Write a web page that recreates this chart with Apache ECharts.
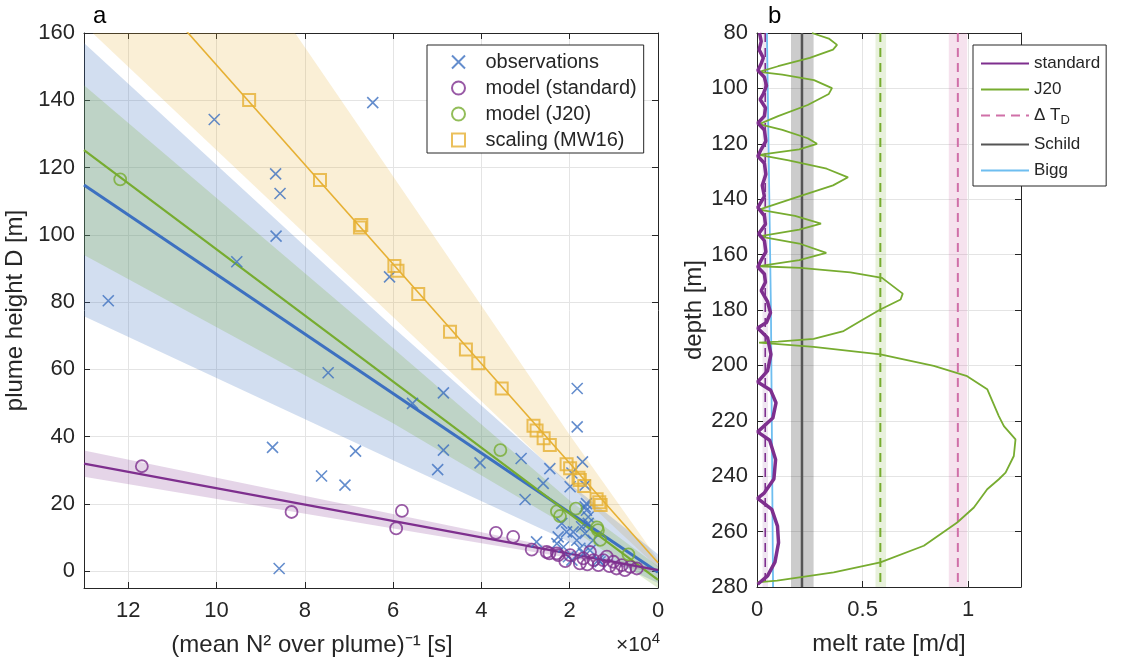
<!DOCTYPE html>
<html><head><meta charset="utf-8">
<script src="https://cdn.jsdelivr.net/npm/echarts@6/dist/echarts.min.js"></script>
<style>html,body{margin:0;padding:0;background:#fff}#c{width:1121px;height:666px}</style>
</head><body><div id="c"></div><script>
// ---------------- panel a data (x in units of 1e4 s, y in m) ----------------
const observations = [[10.05,134.3],[6.46,139.3],[8.66,118.1],[8.56,112.3],[8.65,99.6],[9.54,92.0],[6.08,87.5],[12.45,80.4],[7.47,59.0],[8.73,36.8],[8.58,0.8],[7.62,28.3],[7.09,25.6],[6.85,35.7],[4.86,53.0],[5.56,49.9],[4.86,36.0],[4.99,30.2],[4.03,32.2],[3.10,33.5],[2.45,30.5],[2.60,26.1],[3.01,21.3],[1.83,54.3],[1.83,42.9],[1.71,32.5],[1.95,29.2],[1.65,25.6],[1.99,25.1],[2.75,8.7],[1.62,20.1],[2.18,14.2],[2.26,10.2],[2.07,11.7],[2.14,7.2],[2.29,8.2],[2.03,4.3],[1.84,9.2],[1.73,13.2],[1.65,11.2],[1.58,16.1],[1.54,6.2],[1.35,3.3],[1.69,5.3],[1.95,3.3],[1.77,6.8],[1.47,9.2],[1.92,11.7],[1.62,18.1],[1.65,19.1],[1.58,14.2],[1.31,2.8]];
const modelStandard = [[11.69,31.2],[8.30,17.6],[5.93,12.7],[5.80,17.9],[3.67,11.4],[3.28,10.2],[2.86,6.4],[2.46,5.3],[2.26,4.8],[2.52,5.7],[2.29,5.3],[1.99,4.8],[1.69,3.8],[1.46,3.3],[1.24,3.3],[1.01,2.8],[0.82,1.8],[0.63,1.3],[0.48,0.8],[1.54,5.7],[1.16,4.3],[1.35,1.8],[0.94,0.8],[1.77,2.3],[0.75,0.3],[1.10,1.5],[1.60,2.0],[2.10,3.0]];
const modelJ20 = [[12.18,116.5],[3.57,36.0],[2.29,17.8],[2.22,16.4],[1.86,18.6],[1.38,13.0],[1.36,12.2],[1.31,9.3],[0.67,5.0]];
const scalingMW16 = [[9.26,140.1],[7.655,116.3],[6.75,102.2],[6.72,102.9],[5.97,90.7],[5.90,89.3],[5.43,82.4],[4.71,71.2],[4.35,65.9],[4.07,61.8],[3.54,54.3],[2.82,43.2],[2.75,41.8],[2.59,39.5],[2.45,37.5],[2.07,31.8],[1.99,30.6],[1.80,27.8],[1.77,27.1],[1.67,25.3],[1.39,21.4],[1.33,20.5],[1.30,19.7]];
// fitted lines (end points)
const fitObs = [[0,-0.3],[13,114.8]];
const fitJ20 = [[0,-2.6],[13,125.2]];
const fitMW16 = [[0,2.5],[13,194.9]];
const fitStandard = [[0,0.3],[13,32.0]];
// uncertainty bands: [x, lower, upper]
const bandObs = [[0,-3.5,5],[2,8.7,26],[6,33,72.5],[13,75.8,157]];
const bandJ20 = [[0,-5,1.5],[2,13,21],[6,44,66.3],[13,94,144.5]];
const bandMW16 = [[0,1.0,3.5],[2,25.5,40.5],[6,75.6,117.4],[13,162.4,251.8]];
const bandStandard = [[0,-0.5,0.8],[13,28.1,35.9]];

// ---------------- panel b data ([melt m/d, depth m]) ----------------
const profileStandard = [[0.012,80],[0.02,83],[0.01,86],[0.03,89],[0.02,91],[0.004,93.5],[0.035,96],[0.045,99],[0.03,102],[0.015,104],[0.04,107],[0.035,110],[0.004,112.5],[0.035,115],[0.042,119],[0.02,122],[0.004,124.5],[0.035,127],[0.042,131],[0.025,135],[0.035,139],[0.004,143],[0.035,146],[0.04,149],[0.008,152.5],[0.035,155],[0.042,159],[0.02,162],[0.004,164.5],[0.035,167],[0.04,170],[0.02,173],[0.05,177],[0.064,181],[0.045,184.5],[0.003,186.5],[0.05,190],[0.066,196],[0.05,202],[0.003,206],[0.065,209],[0.09,213.5],[0.075,219],[0.003,224],[0.06,227],[0.088,234],[0.08,241],[0.035,246],[0.003,248],[0.07,252],[0.097,258],[0.102,264],[0.085,271],[0.05,276],[0.003,279]];
const profileJ20 = [[0.26,80],[0.34,82],[0.379,84.3],[0.36,86],[0.25,89],[0.1,92],[0.01,94],[0.12,95],[0.27,97],[0.355,99.9],[0.34,102],[0.24,106],[0.1,110],[0.01,112.9],[0.12,115],[0.24,118],[0.284,120],[0.2,122],[0.01,124],[0.15,126],[0.33,129],[0.431,132.1],[0.36,135],[0.2,139],[0.01,143.8],[0.18,146],[0.303,148.8],[0.2,151],[0.01,153.4],[0.2,156],[0.328,159.4],[0.2,162],[0.01,164.2],[0.205,164.8],[0.442,166.4],[0.592,168.4],[0.69,174.1],[0.68,176.2],[0.584,179.8],[0.5,183.5],[0.41,187.6],[0.268,190.4],[0.1,191.4],[0.01,191.8],[0.268,193.3],[0.584,196],[0.837,200.2],[0.995,203.9],[1.09,208.6],[1.145,218.3],[1.169,221.9],[1.224,226.7],[1.216,232.7],[1.177,238.7],[1.145,241.1],[1.09,244.7],[1.027,251.3],[0.948,256.7],[0.79,265.1],[0.584,271.1],[0.363,274.7],[0.095,277.7],[0.0,278.3]];
const profileBigg = [[0.047,80],[0.066,180],[0.076,280]];
const meanStandard = 0.039, bandMeanStandard = [0.026,0.052];
const meanJ20 = 0.584, bandMeanJ20 = [0.561,0.611];
const deltaTD = 0.951, bandDeltaTD = [0.908,0.995];
const schild = 0.213, bandSchild = [0.161,0.268];
const depthRange = [80,280];

// ---------------- styling ----------------
const C = {blue:'#3D70C0', purple:'#7E2F8E', green:'#77AC30', yellow:'#E6B033', pink:'#D070A8', grey:'#555555', bigg:'#6EBEF0', ink:'#262626', gridLine:'#e4e4e4'};
const FONT = 'Liberation Sans, Arial, Helvetica, sans-serif';
const TICK = 22, TITLE = 24, LEG = 20, LEG_B = 17;

function axisBase(extra){
  return Object.assign({
    type:'value',
    axisLine:{show:true, onZero:false, lineStyle:{color:C.ink, width:1}},
    axisTick:{show:true, inside:true, length:6, lineStyle:{color:C.ink}},
    axisLabel:{color:C.ink, fontSize:TICK, fontFamily:FONT},
    splitLine:{show:true, lineStyle:{color:C.gridLine, width:1}},
    nameTextStyle:{color:C.ink, fontSize:TITLE, fontFamily:FONT}
  }, extra);
}
function boxAxis(extra){
  return axisBase(Object.assign({axisLabel:{show:false}, splitLine:{show:false}}, extra));
}
function bandSeries(band, color, opacity, z){
  return {
    type:'custom', xAxisIndex:0, yAxisIndex:0, clip:true, silent:true, z:z,
    data: band.map(d => [d[0], d[1], d[2]]),
    encode:{x:0, y:[1,2]},
    renderItem:(params, api) => {
      if (params.dataIndex !== 0) return null;
      const top = band.map(d => api.coord([d[0], d[2]]));
      const bot = band.slice().reverse().map(d => api.coord([d[0], d[1]]));
      return {type:'polygon', shape:{points: top.concat(bot)}, style:{fill:color, opacity:opacity}};
    }
  };
}
function fitLine(pts, color, width, z){
  return {type:'line', xAxisIndex:0, yAxisIndex:0, data:pts, symbol:'none', silent:true, z:z,
    lineStyle:{color:color, width:width}, clip:true};
}
function vline(name, v, color, width, dash, band, bandColor, z){
  const s = {type:'line', name:name, xAxisIndex:2, yAxisIndex:2, data:[[v,depthRange[0]],[v,depthRange[1]]],
    symbol:'none', silent:true, z:z, lineStyle:{color:color, width:width, type:dash ? [9,6] : 'solid'}, itemStyle:{color:color}};
  if (band) s.markArea = {silent:true, z:1, itemStyle:{color:bandColor}, data:[[{xAxis:band[0]},{xAxis:band[1]}]]};
  return s;
}
const crossPath = 'path://M0,0L10,10M10,0L0,10';
const squarePath = 'path://M0,0H10V10H0Z';

const option = {
  animation:false,
  backgroundColor:'#fff',
  textStyle:{fontFamily:FONT},
  grid:[
    {left:84, top:33, width:574, height:555, containLabel:false, outerBoundsMode:'none'},
    {left:757, top:33, width:264, height:554, containLabel:false, outerBoundsMode:'none'}
  ],
  xAxis:[
    axisBase({gridIndex:0, min:0, max:13, interval:2, inverse:true, position:'bottom',
      axisLabel:{color:C.ink, fontSize:TICK, fontFamily:FONT, margin:12, showMaxLabel:false},
      name:'(mean N² over plume)⁻¹ [s]', nameLocation:'middle', nameGap:45,
      nameTextStyle:{color:C.ink, fontSize:TITLE, fontFamily:FONT, padding:[0,118,0,0]}}),
    boxAxis({gridIndex:0, min:0, max:13, interval:2, inverse:true, position:'top'}),
    axisBase({gridIndex:1, min:0, max:1.25, interval:0.5, position:'bottom',
      axisLabel:{color:C.ink, fontSize:TICK, fontFamily:FONT, margin:12, showMaxLabel:false},
      name:'melt rate [m/d]', nameLocation:'middle', nameGap:45}),
    boxAxis({gridIndex:1, min:0, max:1.25, interval:0.5, position:'top'})
  ],
  yAxis:[
    axisBase({gridIndex:0, min:-5, max:160, splitNumber:8, minInterval:20, maxInterval:20, position:'left',
      axisLabel:{color:C.ink, fontSize:TICK, fontFamily:FONT, margin:9, showMinLabel:false},
      name:'plume height D [m]', nameLocation:'middle', nameGap:48}),
    boxAxis({gridIndex:0, min:-5, max:160, splitNumber:8, minInterval:20, maxInterval:20, position:'right'}),
    axisBase({gridIndex:1, min:80, max:280, interval:20, inverse:true, position:'left',
      axisLabel:{color:C.ink, fontSize:TICK, fontFamily:FONT, margin:9},
      name:'depth [m]', nameLocation:'middle', nameGap:51}),
    boxAxis({gridIndex:1, min:80, max:280, interval:20, inverse:true, position:'right'})
  ],
  legend:[
    {left:427, top:45, orient:'vertical', itemWidth:44, itemHeight:13, itemGap:6,
     padding:[7,7,3,24], backgroundColor:'#fff', borderColor:C.ink, borderWidth:1, z:20,
     textStyle:{color:C.ink, fontSize:LEG, fontFamily:FONT},
     data:['observations','model (standard)','model (J20)','scaling (MW16)']},
    {left:973, top:45, orient:'vertical', itemWidth:48, itemHeight:14, itemGap:9,
     padding:[10,6,7,7], backgroundColor:'#fff', borderColor:C.ink, borderWidth:1, z:20,
     itemStyle:{opacity:0},
     textStyle:{color:C.ink, fontSize:LEG_B, fontFamily:FONT,
       rich:{m:{fontSize:LEG_B, fontFamily:FONT, color:C.ink}, s:{fontSize:13, fontFamily:FONT, color:C.ink, padding:[10,0,0,0]}}},
     formatter:(n) => n === 'Δ T_D' ? '{m|Δ T}{s|D}' : n,
     data:['standard','J20','Δ T_D','Schild','Bigg']}
  ],
  graphic:[
    {type:'text', left:93, top:4, style:{text:'a', fontSize:24, fontFamily:FONT, fill:'#000'}},
    {type:'text', left:768, top:4, style:{text:'b', fontSize:24, fontFamily:FONT, fill:'#000'}},
    {type:'text', right:1121-660, top:631, style:{text:'×10{s|4}', fontSize:21, fontFamily:FONT, fill:C.ink,
      rich:{s:{fontSize:15, fontFamily:FONT, fill:C.ink, padding:[0,0,14,0]}}}}
  ],
  series:[
    bandSeries(bandMW16, C.yellow, 0.2, 1),
    bandSeries(bandObs, C.blue, 0.23, 1),
    bandSeries(bandJ20, C.green, 0.22, 1),
    bandSeries(bandStandard, C.purple, 0.2, 1),
    fitLine(fitMW16, C.yellow, 1.6, 2),
    fitLine(fitObs, C.blue, 3, 2),
    fitLine(fitJ20, C.green, 2.2, 2),
    fitLine(fitStandard, C.purple, 2.2, 2),
    {type:'scatter', name:'observations', xAxisIndex:0, yAxisIndex:0, data:observations, z:3,
     symbol:crossPath, symbolSize:11, itemStyle:{color:'rgba(0,0,0,0)', borderColor:C.blue, borderWidth:1.6}},
    {type:'scatter', name:'model (standard)', xAxisIndex:0, yAxisIndex:0, data:modelStandard, z:4,
     symbol:'circle', symbolSize:12, itemStyle:{color:'rgba(0,0,0,0)', borderColor:C.purple, borderWidth:1.8}},
    {type:'scatter', name:'model (J20)', xAxisIndex:0, yAxisIndex:0, data:modelJ20, z:4,
     symbol:'circle', symbolSize:12, itemStyle:{color:'rgba(0,0,0,0)', borderColor:C.green, borderWidth:1.8}},
    {type:'scatter', name:'scaling (MW16)', xAxisIndex:0, yAxisIndex:0, data:scalingMW16, z:4,
     symbol:squarePath, symbolSize:12, itemStyle:{color:'rgba(0,0,0,0)', borderColor:C.yellow, borderWidth:2}},
    vline('Schild', schild, C.grey, 2.5, false, bandSchild, 'rgba(0,0,0,0.2)', 3),
    vline('J20 mean', meanJ20, C.green, 2, true, bandMeanJ20, 'rgba(119,172,48,0.17)', 3),
    vline('Δ T_D', deltaTD, C.pink, 2, true, bandDeltaTD, 'rgba(208,112,168,0.2)', 3),
    vline('standard mean', meanStandard, C.purple, 1.6, true, bandMeanStandard, 'rgba(126,47,142,0.12)', 3),
    {type:'line', name:'Bigg', xAxisIndex:2, yAxisIndex:2, data:profileBigg, symbol:'none', silent:true, z:4,
     lineStyle:{color:C.bigg, width:1.8}, itemStyle:{color:C.bigg}},
    {type:'line', name:'J20', xAxisIndex:2, yAxisIndex:2, data:profileJ20, symbol:'none', silent:true, z:5,
     lineStyle:{color:C.green, width:1.8}, itemStyle:{color:C.green}},
    {type:'line', name:'standard', xAxisIndex:2, yAxisIndex:2, data:profileStandard, symbol:'none', silent:true, z:6,
     lineStyle:{color:C.purple, width:3.5}, itemStyle:{color:C.purple}}
  ]
};
const chart = echarts.init(document.getElementById('c'), null, {renderer:'canvas'});
chart.setOption(option);
</script></body></html>
